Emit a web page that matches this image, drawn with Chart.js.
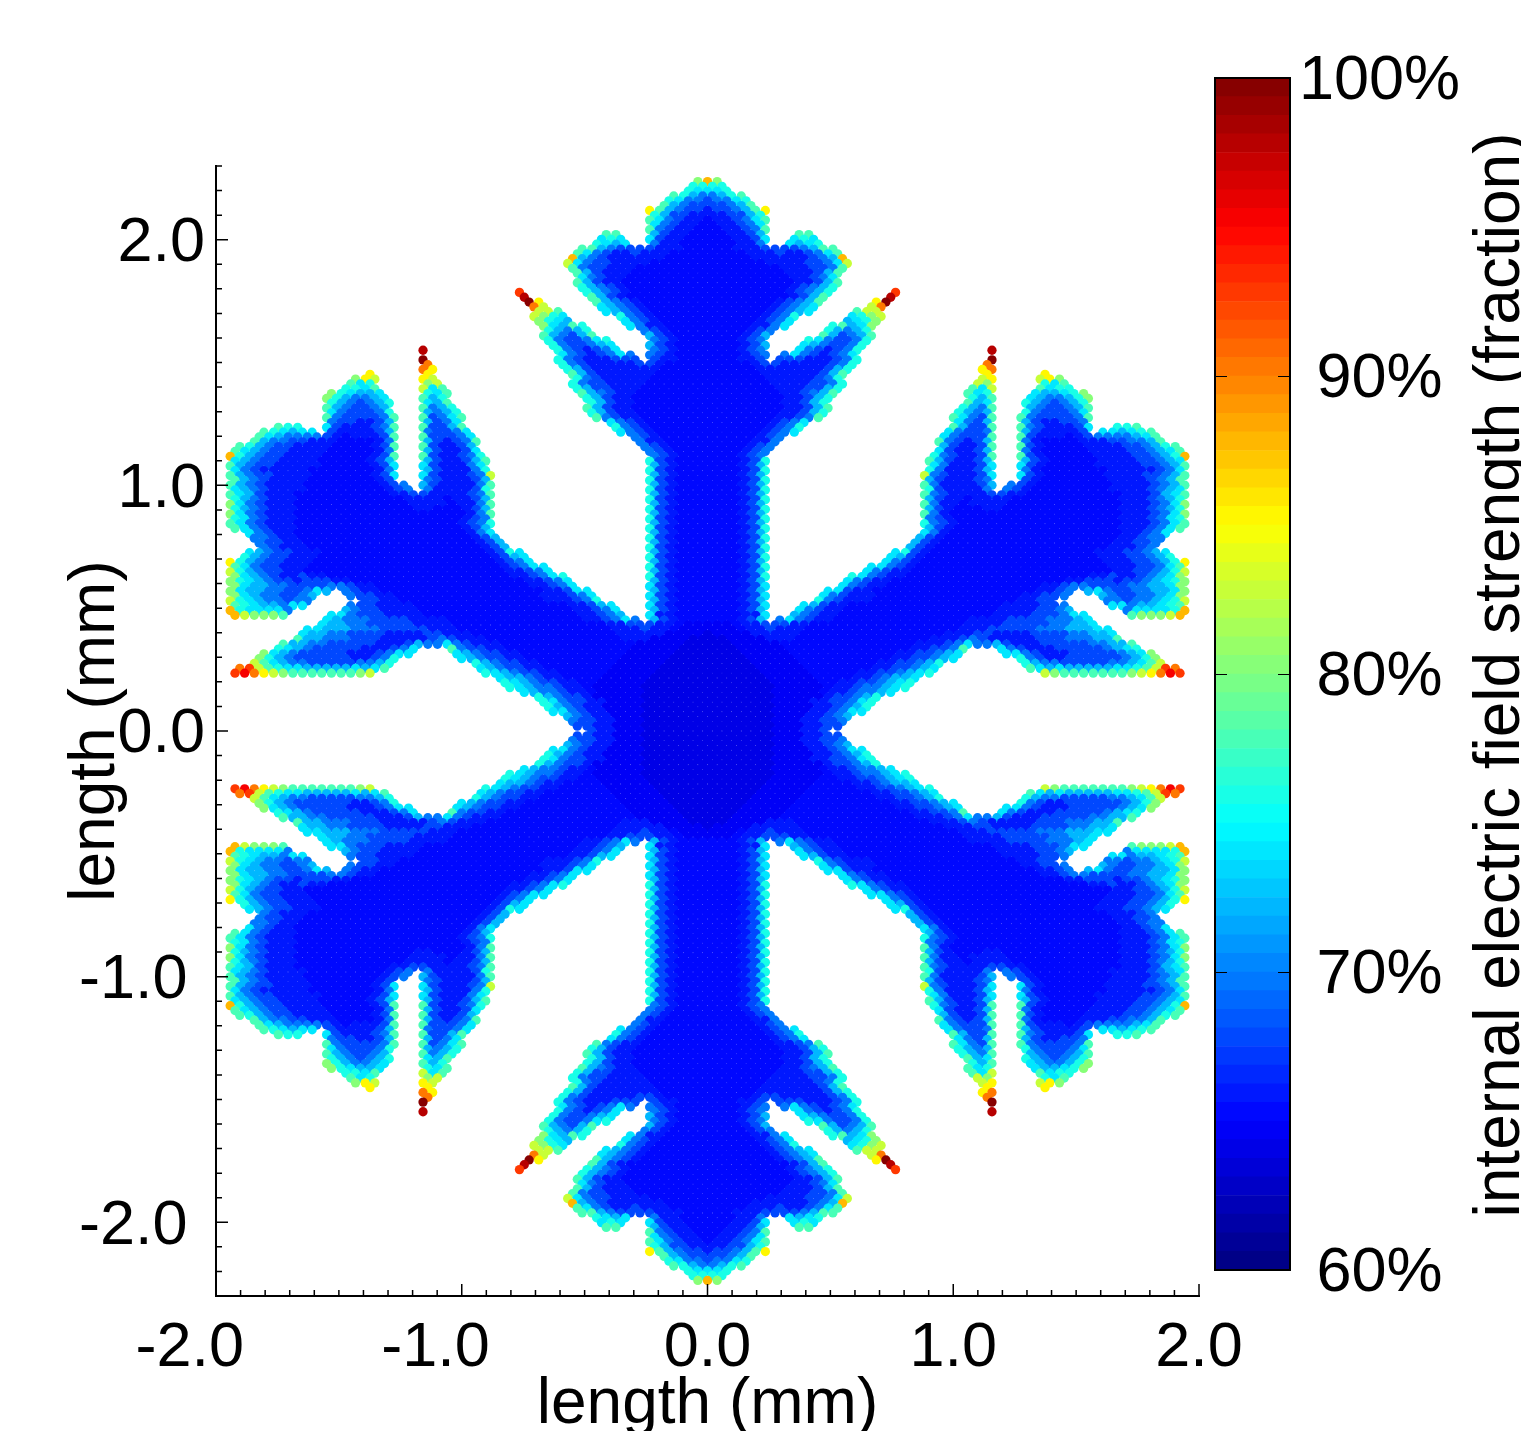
<!DOCTYPE html>
<html>
<head>
<meta charset="utf-8">
<title>Internal electric field strength</title>
<script src="https://cdn.jsdelivr.net/npm/chart.js@4"></script>
<style>
  body { margin: 0; background: #fff; overflow: hidden; width: 1521px; height: 1431px; position: relative; }
  canvas { position: absolute; top: 0; }
  #field { left: 0; }
  #scale { left: 1200px; }
</style>
</head>
<body>
<canvas id="field" width="1521" height="1431"></canvas>
<canvas id="scale" width="321" height="1431"></canvas>
<script>
// Upper right quarter of the flake. First row is the top of the flake,
// last row is the centre line. One letter per grid point, "." is empty, a number repeats the next letter.
const fieldRows = [
  'MJ', 'HH', 'GGH', 'EFHI', 'DEEGH', 'DDEFI', 'CDDEFIL', 'CCDDFH', 'BCCDEGI', 'BCCDEG', 'BBCCDEI',
  'BBCCDF...II', 'BBBCCDG..GHG', 'BBBCCE..GFGH', 'BBBCCCDDDDEFII', 'BBBBCCCDCCDEGI', 'BBBBBCCCCCCDEFM',
  'BBBBBBCCCCDDEGK', 'BBBBBBBBCCCDDEI', 'BBBBBBBBCCCDFI', 'BBBBBBBBBCCDEG', 'BBBBBBBBBCCDFI', 'BBBBBBBBBCDEFH',
  'BBBBBBBBCDEFH......O', 'BBBBBBBBBCDFI......Q', 'BBBBBBBCDEFI.....LR', 'BBBBBBBCDEFG.....KN',
  'BBBBBBCDEFG....IKK', 'BBBBBBCDEH.....GHJK', 'BBBBBCDEG.....FGHJ', 'BBBBBCCEG....HIFGJ', 'BBBBCDE.....HFEFH',
  'BBBBCDF.....IFDEFI', 'BBBCDE....HGEDDEH', 'BBBBCDF...GFEDDEH',
  'BBBCDE...GEDCDEH13.Q',
  'BBBBCDE.EGEDCDEG',
  'BBBCCD.DDDCCCDEH13.R',
  '5BCDD5CDEH13.N',
  '5B7CDFH13.LN',
  '6B6CDFI14.L5.L',
  '6B5CDEH14.KL4.KLJ',
  '7B4C2DEH13.KJ5.HGI',
  '7B3C2DFH13.IGK4.IGHH',
  '8B2CDEFI13.IGH4.GFFGHJ',
  '8B2CDFH14.HFI3.GFEEFHJ',
  '8B2CDFH14.IFG3.HFEDEFH',
  '8B2CDFI13.HFEI3.FEDDEFI',
  '8B2CDFH13.HFEF3.HEDDDEG',
  '7B2CDEI13.IGEDI2.IEDDDDEI',
  '7BCDEG15.GEDF3.FDCCDDE',
  '6BCDEH15.IFDDI2.IEDCCCDG2.HHI',
  '6BCDEG15.GEDDE3.FDCCCCD.GGFGHI',
  '5BCDE16.GEDDDI2.IDCCCBCDEEEEFGI',
  '5B2CE16.IEDCDF3.ECBBBBCCCDDEEFI',
  '4BCDE17.FDCCDI2.IDCBBBBCCCCDDEFHI',
  '4BCDE17.GDCCDF3.ECBBBBBCCCCDDEFGI',
  '3BCDE17.HEDCCDI2.IDCBBBBBCCCCDDEFHM',
  '4BCDH16.IFDCCDF3.FDCBBBBBCCCCDDEFG',
  '3BCDF17.GECCCDG2.GDCBBBBBCCCCCDDEFI',
  '4BCDH16.HECCCDF3.ECBBBBBBBCCCCCDEG',
  '3BCDF16.KEDCCCDG2.GDCBBBBBBCCCCDDEFI',
  '4BCDH16.FDCCCDE3.DCBBBBBBBCCCCDEFI',
  '3BCDF16.IECCCCDF.EDC8B4CDEFI',
  '4BCDH16.HDCCCCE.EDC8B4CDEFG',
  '3BCDF16.IEDCCCCDDCC10B3CDFGI',
  '4BCDH16.FDCCBCCCC11B3CDEFH',
  '3BCDF16.IECCBCCCC12B3CDEGJ',
  '4BCDH16.FDCBBBCC12B3CDEFH',
  '3BCDF16.IEC18B3CDEGJ',
  '4BCDH16.EDC17B3CDEGH',
  '3BCDF16.HEDC17B3CDEGI',
  '4BCDH16.FDC17B3CDEGI',
  '3BCDF16.GEC18B2CDEG',
  '4BCDH15.FDC18B2CDEE',
  '3BCDF15.FDC18B2CDDE',
  '4BCDH14.FDC18B3CDE',
  '3BCDF13.GHDC17B3CDDEFG',
  '4BCDH12.GFDC18B3CDDEFH',
  '3BCDF12.GEDC19B3CDDEFHL',
  '4BCDH10.GGEDC20B3CDDEGI',
  '3BCDF10.GEDCC21B2CDDEFHK',
  '4BCDH8.HGEDCC19B2CDCCDEFGJ',
  '3BCDF8.GEDCC18B2CDDDCDDEFGHJ',
  '4BCDG7.GEDCC16B2CDEEDDDDEEFFGJ',
  '3BCDF6.GGDCC17B2CDE.FGEDDEEFFGJ',
  '4BCDG5.GEDCCC15B2C2DE3.FEDDEEFGJ',
  '3BCDF5.HEDCCC15B2C2D5.EEDEEFGHK',
  '4BCDG3.GFDCC16B4C2DE4.GGEFFGHI',
  '3BCDF3.GEDCC16B4C2DEF5.EGGGGHM',
  '4B2CG2.FEDCC16B4C3DEGG4.IJJJKM',
  '3BCDF.EGEDCC14B4CDDDDEEEFG',
  '3ZB2C3D2C16B4C5D2E2FG',
  '3ZB2CD3C16B3C5D3E3F2G',
  'A4Z5C15B3C2D4C4D2E2FG',
  '2A4Z3C14B3CDED5C3D3E2FI',
  '3A5Z14B3CDEG2EFD3C5D2E2FI',
  '3A5Z13B2C2DEI3.GED3C5DEFGH',
  '4A5Z11B2C2DEFG4.2GED3C5DEFGJ',
  '4A5Z10B2C2DEFG6.HED2C6DEFHJ',
  '5A5Z8B2C2DEFH8.HF2E5D2EFGIK',
  '5A5Z7B2C2DEFG9.IGFG5F2GHIKON',
  '6A5Z5B2C2DEFGH11.KJ7IJKLNPO',
  '6A5Z4B2CDE2FG',
  '7A5Z2B2C2DEFGH',
  '7A5ZB2CD2EFGH',
  '7A5ZB2CD2EFG',
  '7A5ZC2DEFH',
  '7A4Z2C2DEGH',
  '7A4Z2CDEFH',
  '7A4Z2CDE2G',
  '7A3Z2CDEF',
  '7A3Z2C2DE',
  '7A3Z2C2D',
  '7A3Z2CD'
];

// Field strength (%) behind each letter
const levelNames = ['A', 'Z', 'B', 'C', 'D', 'E', 'F', 'G', 'H', 'I', 'J', 'K', 'L', 'M', 'N', 'O', 'P', 'Q', 'R'];
const levelValues = [64.1, 64.6, 65, 66.2, 67.5, 69.5, 72, 74, 76, 78, 80, 82.5, 85, 87.5, 90, 92.5, 95, 97.5, 100];

const gridStep = 0.01962; // mm between neighbouring grid lines

const xTicks = [-2, -1, 0, 1, 2];
const xTickLabels = ['-2.0   ', '-1.0   ', '0.0', '1.0', '2.0'];
const yTicks = [-2, -1, 0, 1, 2];
const yTickLabels = ['-2.0 ', '-1.0 ', '0.0', '1.0', '2.0'];
const scaleTicks = [60, 70, 80, 90, 100];
const scaleTickLabels = ['60%', '70%', '80%', '90%', '100%'];

const FONT = '"Liberation Sans", Arial, sans-serif';
const SCALE_MIN = 60;
const SCALE_MAX = 100;
const BANDS = 64;

function jetColor(value) {
  const band = Math.min(BANDS - 1, Math.floor((value - SCALE_MIN) / (SCALE_MAX - SCALE_MIN) * BANDS));
  const t = (band + 0.5) / BANDS;
  const part = (c) => Math.round(255 * Math.max(0, Math.min(1, 1.5 - Math.abs(4 * t - c))));
  return `rgb(${part(3)},${part(2)},${part(1)})`;
}

function expandRow(row) {
  return row.replace(/(\d+)(\D)/g, (m, n, c) => c.repeat(Number(n)));
}

// Rows are mirrored into the other three quarters, drawn top to bottom
const rows = fieldRows.map(expandRow);
const fieldPoints = [];
const fieldColors = [];
const topRow = rows.length - 1;
for (let j = topRow; j >= -topRow; j--) {
  const rowIndex = topRow - Math.abs(j);
  const text = rows[rowIndex];
  const offset = Math.abs(j) % 2;
  const cells = [];
  for (let k = 0; k < text.length; k++) {
    if (text[k] === '.') continue;
    const i = offset + 2 * k;
    const v = levelValues[levelNames.indexOf(text[k])];
    cells.push([i, v]);
    if (i > 0) cells.push([-i, v]);
  }
  cells.sort((a, b) => a[0] - b[0]);
  cells.forEach(([i, v]) => {
    fieldPoints.push({ x: i * gridStep, y: j * gridStep });
    fieldColors.push(jetColor(v));
  });
}

// Axis ticks point inwards
const inwardTicks = {
  id: 'inwardTicks',
  afterDraw(chart) {
    const { ctx, scales: { x, y } } = chart;
    ctx.save();
    ctx.strokeStyle = '#000';
    ctx.lineWidth = 1.5;
    ctx.beginPath();
    for (let n = -20; n <= 20; n++) {
      const px = x.getPixelForValue(n / 10);
      const len = n % 10 === 0 ? 12 : 6;
      ctx.moveTo(px, x.top);
      ctx.lineTo(px, x.top - len);
    }
    for (let n = -23; n <= 23; n++) {
      const py = y.getPixelForValue(n / 10);
      const len = n % 10 === 0 ? 12 : 6;
      ctx.moveTo(y.right, py);
      ctx.lineTo(y.right + len, py);
    }
    ctx.stroke();
    ctx.restore();
  }
};

new Chart(document.getElementById('field').getContext('2d'), {
  type: 'scatter',
  data: {
    datasets: [{
      data: fieldPoints,
      backgroundColor: fieldColors,
      borderWidth: 0,
      pointRadius: 4.65,
      pointHoverRadius: 4.65
    }]
  },
  options: {
    responsive: false,
    animation: false,
    devicePixelRatio: 1,
    layout: { padding: { left: 0, top: 166, right: 322, bottom: 0 } },
    plugins: { legend: { display: false }, tooltip: { enabled: false } },
    scales: {
      x: {
        type: 'linear',
        min: -2,
        max: 2,
        afterFit: (s) => { s.height = 135; },
        afterBuildTicks: (s) => { s.ticks = xTicks.map(v => ({ value: v })); },
        grid: { display: false, drawTicks: false },
        border: { display: true, color: '#000', width: 2 },
        ticks: {
          autoSkip: false,
          maxRotation: 0,
          padding: 15,
          color: '#000',
          font: { family: FONT, size: 63 },
          callback: (v) => xTickLabels[xTicks.indexOf(v)]
        },
        title: {
          display: true,
          text: 'length (mm)',
          color: '#000',
          font: { family: FONT, size: 64 },
          padding: { top: 0, bottom: -13 }
        }
      },
      y: {
        type: 'linear',
        min: -2.3,
        max: 2.3,
        afterFit: (s) => { s.width = 216; },
        afterBuildTicks: (s) => { s.ticks = yTicks.map(v => ({ value: v })); },
        grid: { display: false, drawTicks: false },
        border: { display: true, color: '#000', width: 2 },
        ticks: {
          autoSkip: false,
          padding: 11,
          labelOffset: 4,
          color: '#000',
          font: { family: FONT, size: 63 },
          callback: (v) => yTickLabels[yTicks.indexOf(v)]
        },
        title: {
          display: true,
          text: 'length (mm)',
          color: '#000',
          font: { family: FONT, size: 64 },
          padding: { top: 58, bottom: 0 }
        }
      }
    }
  },
  plugins: [inwardTicks]
});

// Colour bar, one floating bar per band
const bandDatasets = [];
for (let b = 0; b < BANDS; b++) {
  const lo = SCALE_MIN + (SCALE_MAX - SCALE_MIN) * b / BANDS;
  const hi = SCALE_MIN + (SCALE_MAX - SCALE_MIN) * (b + 1) / BANDS;
  bandDatasets.push({
    data: [[lo, hi]],
    backgroundColor: jetColor((lo + hi) / 2),
    borderWidth: 0,
    barPercentage: 1,
    categoryPercentage: 1,
    grouped: false
  });
}

const barFrame = {
  id: 'barFrame',
  afterDraw(chart) {
    const { ctx, chartArea: a, scales: { y } } = chart;
    ctx.save();
    ctx.strokeStyle = '#000';
    ctx.lineWidth = 2;
    ctx.strokeRect(a.left, a.top, a.right - a.left, a.bottom - a.top);
    ctx.lineWidth = 1;
    ctx.beginPath();
    [70, 80, 90].forEach(v => {
      const py = Math.round(y.getPixelForValue(v)) + 0.5;
      ctx.moveTo(a.left, py);
      ctx.lineTo(a.left + 12, py);
      ctx.moveTo(a.right, py);
      ctx.lineTo(a.right - 12, py);
    });
    ctx.stroke();
    // axis title reads bottom to top, on the right of the bar
    ctx.translate(319, 675);
    ctx.rotate(-Math.PI / 2);
    ctx.fillStyle = '#000';
    ctx.font = `64px ${FONT}`;
    ctx.textAlign = 'center';
    ctx.textBaseline = 'alphabetic';
    ctx.fillText('internal electric field strength (fraction)', 0, 0);
    ctx.restore();
  }
};

new Chart(document.getElementById('scale').getContext('2d'), {
  type: 'bar',
  data: { labels: [''], datasets: bandDatasets },
  options: {
    responsive: false,
    animation: false,
    devicePixelRatio: 1,
    layout: { padding: { left: 15, top: 78, bottom: 161, right: 0 } },
    plugins: { legend: { display: false }, tooltip: { enabled: false } },
    scales: {
      x: { display: false },
      y: {
        position: 'right',
        min: SCALE_MIN,
        max: SCALE_MAX,
        afterFit: (s) => { s.width = 231; },
        afterBuildTicks: (s) => { s.ticks = scaleTicks.map(v => ({ value: v })); },
        grid: { display: false, drawTicks: false },
        border: { display: false },
        ticks: {
          autoSkip: false,
          crossAlign: 'center',
          padding: 9,
          labelOffset: 4,
          color: '#000',
          font: { family: FONT, size: 63 },
          callback: (v) => scaleTickLabels[scaleTicks.indexOf(v)]
        }
      }
    }
  },
  plugins: [barFrame]
});
</script>
</body>
</html>
